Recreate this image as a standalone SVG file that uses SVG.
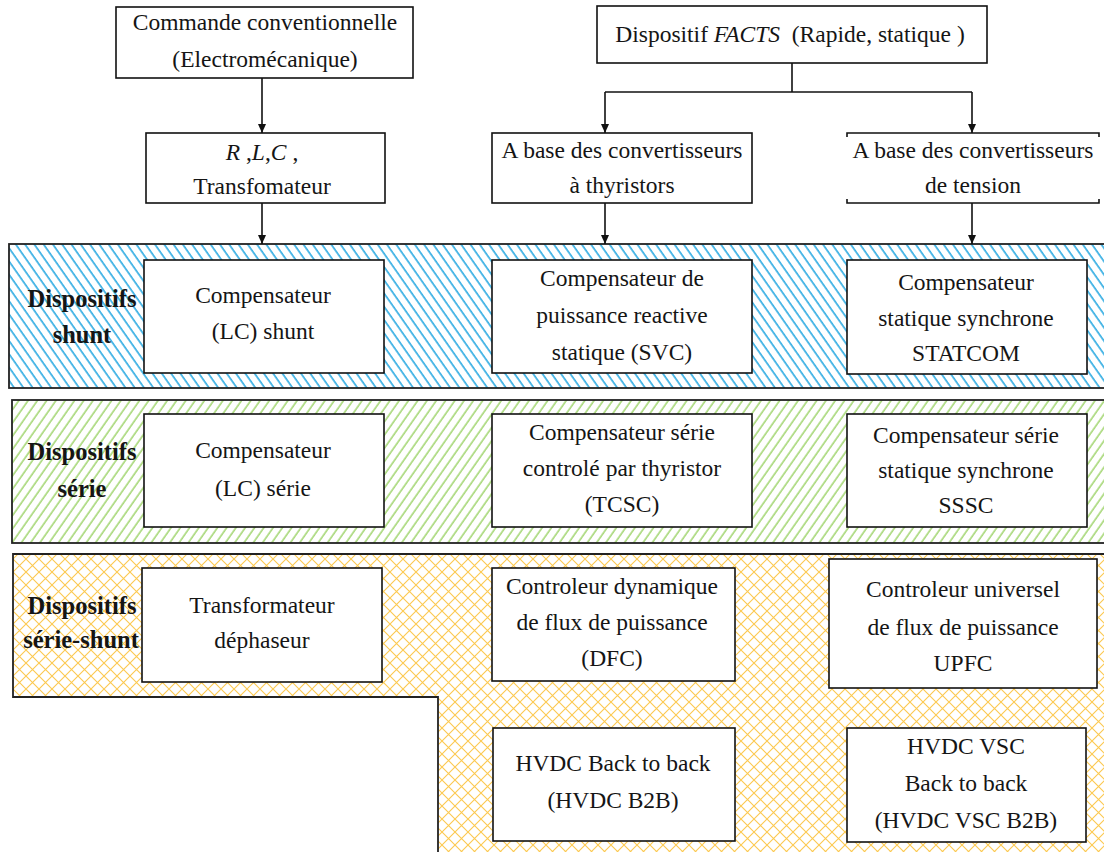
<svg xmlns="http://www.w3.org/2000/svg" width="1104" height="852" viewBox="0 0 1104 852">
<style>
.t{font-family:'Liberation Serif','DejaVu Serif',serif;font-size:23.5px;fill:#151515;text-anchor:middle}
.b{font-weight:bold;font-size:24.5px}
.i{font-style:italic}
.box{fill:#fff;stroke:#111;stroke-width:1.6}
.band{stroke:#222;stroke-width:1.8}
.c{fill:none;stroke:#111;stroke-width:1.6}
</style>
<defs>
<pattern id="pBlue" patternUnits="userSpaceOnUse" width="7.6" height="10" patternTransform="rotate(-35)">
<rect width="7.6" height="10" fill="#fff"/>
<line x1="2" y1="0" x2="2" y2="10" stroke="#3ab0e4" stroke-width="1.7"/>
</pattern>
<pattern id="pGreen" patternUnits="userSpaceOnUse" width="7.6" height="10" patternTransform="rotate(35)">
<rect width="7.6" height="10" fill="#fff"/>
<line x1="2" y1="0" x2="2" y2="10" stroke="#9ad264" stroke-width="1.4"/>
</pattern>
<pattern id="pOrange" patternUnits="userSpaceOnUse" width="13" height="13">
<rect width="13" height="13" fill="#fff"/>
<path d="M0,0 L13,13 M13,0 L0,13" stroke="#fcc94f" stroke-width="1.1" fill="none"/>
</pattern>
<marker id="arr" markerWidth="10" markerHeight="10" refX="9" refY="5" orient="auto" markerUnits="userSpaceOnUse">
<path d="M0,1 L9,5 L0,9 Z" fill="#111"/>
</marker>
</defs>
<rect width="1104" height="852" fill="#fff"/>

<g id="bands">
<rect id="band-shunt" class="band" x="9" y="244" width="1110" height="144" fill="url(#pBlue)"/>
<rect id="band-serie" class="band" x="12" y="400" width="1110" height="143" fill="url(#pGreen)"/>
<path id="band-serie-shunt" class="band" d="M13,554 H1120 V870 H438 V697 H13 Z" fill="url(#pOrange)"/>
<text class="t b" x="82" y="307">Dispositifs</text>
<text class="t b" x="82" y="343">shunt</text>
<text class="t b" x="82" y="460">Dispositifs</text>
<text class="t b" x="82" y="497">série</text>
<text class="t b" x="82" y="614">Dispositifs</text>
<text class="t b" x="81" y="648">série-shunt</text>
</g>

<g id="connectors">
<line class="c" x1="262" y1="78" x2="262" y2="133" marker-end="url(#arr)"/>
<line class="c" x1="262" y1="203" x2="262" y2="244" marker-end="url(#arr)"/>
<polyline class="c" points="792,63 792,92"/>
<polyline class="c" points="605,92 972,92"/>
<line class="c" x1="605" y1="92" x2="605" y2="133" marker-end="url(#arr)"/>
<line class="c" x1="972" y1="92" x2="972" y2="133" marker-end="url(#arr)"/>
<line class="c" x1="605" y1="203" x2="605" y2="244" marker-end="url(#arr)"/>
<line class="c" x1="972" y1="203" x2="972" y2="244" marker-end="url(#arr)"/>
</g>

<g id="n-conv">
<rect class="box" x="116" y="7" width="297" height="71"/>
<text class="t" x="265" y="30">Commande conventionnelle</text>
<text class="t" x="265" y="67">(Electromécanique)</text>
</g>
<g id="n-rlc">
<rect class="box" x="146" y="133" width="239" height="70"/>
<text class="t" x="262" y="160"><tspan class="i">R</tspan> ,<tspan class="i">L</tspan>,<tspan class="i">C</tspan> ,</text>
<text class="t" x="262" y="194">Transfomateur</text>
</g>
<g id="n-facts">
<rect class="box" x="597" y="6" width="390" height="57"/>
<text class="t" x="790" y="42">Dispositif <tspan class="i">FACTS</tspan>&#160; (Rapide, statique )</text>
</g>
<g id="n-thyr">
<rect class="box" x="492" y="133" width="260" height="70"/>
<text class="t" x="622" y="158">A base des convertisseurs</text>
<text class="t" x="622" y="193">à thyristors</text>
</g>
<g id="n-tension">
<path class="c" d="M847,137 V133 H1099 V137 M847,199 V203 H1099 V199"/>
<text class="t" x="973" y="158">A base des convertisseurs</text>
<text class="t" x="973" y="193">de tension</text>
</g>

<g id="n-lc-shunt">
<rect class="box" x="144" y="260" width="240" height="113"/>
<text class="t" x="263" y="303">Compensateur</text>
<text class="t" x="263" y="339">(LC) shunt</text>
</g>
<g id="n-svc">
<rect class="box" x="492" y="260" width="260" height="113"/>
<text class="t" x="622" y="286">Compensateur de</text>
<text class="t" x="622" y="323">puissance reactive</text>
<text class="t" x="622" y="360">statique (SVC)</text>
</g>
<g id="n-statcom">
<rect class="box" x="847" y="260" width="240" height="114"/>
<text class="t" x="966" y="290">Compensateur</text>
<text class="t" x="966" y="326">statique synchrone</text>
<text class="t" x="966" y="361">STATCOM</text>
</g>

<g id="n-lc-serie">
<rect class="box" x="144" y="414" width="240" height="113"/>
<text class="t" x="263" y="458">Compensateur</text>
<text class="t" x="263" y="496">(LC) série</text>
</g>
<g id="n-tcsc">
<rect class="box" x="492" y="414" width="260" height="113"/>
<text class="t" x="622" y="440">Compensateur série</text>
<text class="t" x="622" y="476">controlé par thyristor</text>
<text class="t" x="622" y="512">(TCSC)</text>
</g>
<g id="n-sssc">
<rect class="box" x="847" y="414" width="240" height="113"/>
<text class="t" x="966" y="443">Compensateur série</text>
<text class="t" x="966" y="478">statique synchrone</text>
<text class="t" x="966" y="513">SSSC</text>
</g>

<g id="n-dephaseur">
<rect class="box" x="142" y="568" width="240" height="114"/>
<text class="t" x="262" y="613">Transformateur</text>
<text class="t" x="262" y="648">déphaseur</text>
</g>
<g id="n-dfc">
<rect class="box" x="492" y="568" width="243" height="113"/>
<text class="t" x="612" y="594">Controleur dynamique</text>
<text class="t" x="612" y="630">de flux de puissance</text>
<text class="t" x="612" y="666">(DFC)</text>
</g>
<g id="n-upfc">
<rect class="box" x="829" y="559" width="268" height="129"/>
<text class="t" x="963" y="597">Controleur universel</text>
<text class="t" x="963" y="635">de flux de puissance</text>
<text class="t" x="963" y="671">UPFC</text>
</g>
<g id="n-b2b">
<rect class="box" x="493" y="728" width="242" height="113"/>
<text class="t" x="613" y="771">HVDC Back to back</text>
<text class="t" x="613" y="808">(HVDC B2B)</text>
</g>
<g id="n-vsc">
<rect class="box" x="847" y="728" width="239" height="114"/>
<text class="t" x="966" y="754">HVDC VSC</text>
<text class="t" x="966" y="791">Back to back</text>
<text class="t" x="966" y="828">(HVDC VSC B2B)</text>
</g>
</svg>
